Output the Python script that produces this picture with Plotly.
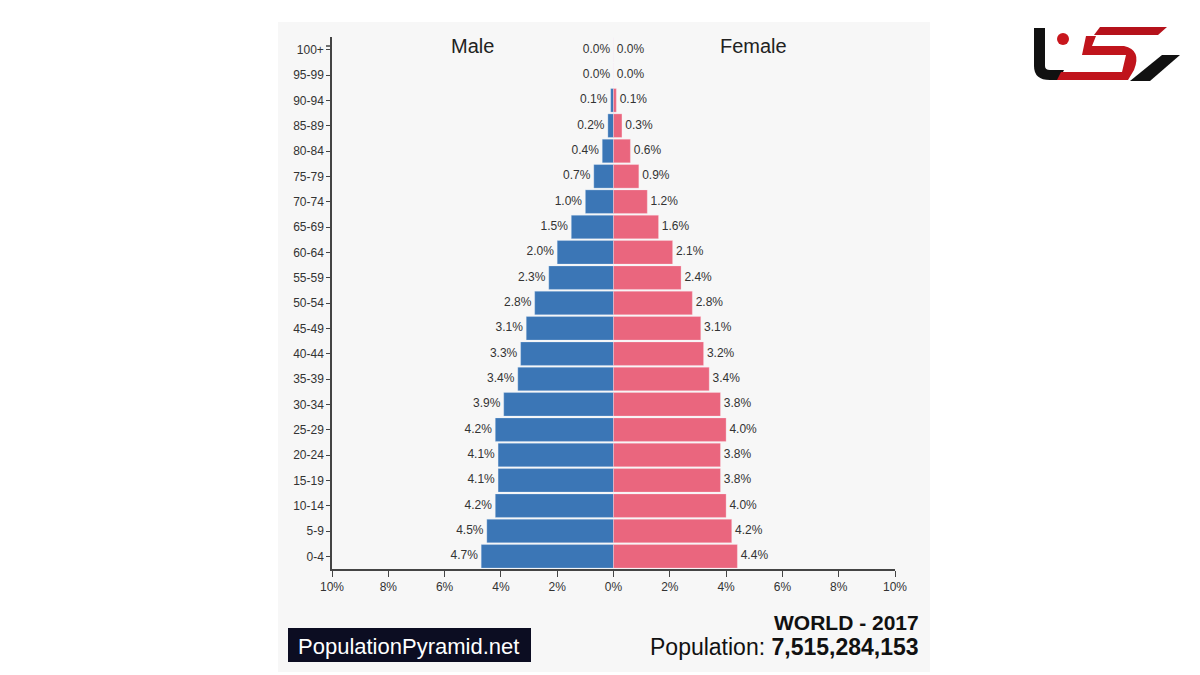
import plotly.graph_objects as go

age_groups = ["0-4", "5-9", "10-14", "15-19", "20-24", "25-29", "30-34", "35-39",
              "40-44", "45-49", "50-54", "55-59", "60-64", "65-69", "70-74", "75-79",
              "80-84", "85-89", "90-94", "95-99", "100+"]
male_pct = [4.7, 4.5, 4.2, 4.1, 4.1, 4.2, 3.9, 3.4, 3.3, 3.1, 2.8, 2.3, 2.0, 1.5,
            1.0, 0.7, 0.4, 0.2, 0.1, 0.0, 0.0]
female_pct = [4.4, 4.2, 4.0, 3.8, 3.8, 4.0, 3.8, 3.4, 3.2, 3.1, 2.8, 2.4, 2.1, 1.6,
              1.2, 0.9, 0.6, 0.3, 0.1, 0.0, 0.0]
tick_vals = [-10, -8, -6, -4, -2, 0, 2, 4, 6, 8, 10]
tick_text = ["10%", "8%", "6%", "4%", "2%", "0%", "2%", "4%", "6%", "8%", "10%"]

W, H = 1200, 675
ML, MR, MT, MB = 332, 305, 37, 106
PW, PH = W - ML - MR, H - MT - MB


def px(x):
    return (x - ML) / PW


def py(y):
    return 1 - (y - MT) / PH


MALE_C = "#3b76b6"
FEMALE_C = "#ea667e"
FONT = "Liberation Sans, Arial, sans-serif"
NB = "\u00a0"

fig = go.Figure()
fig.add_trace(go.Bar(y=age_groups, x=[-v for v in male_pct], orientation="h",
                     marker=dict(color=MALE_C, line=dict(color="rgba(230,240,255,0.6)", width=0.5)),
                     name="Male", hoverinfo="skip"))
fig.add_trace(go.Bar(y=age_groups, x=female_pct, orientation="h",
                     marker=dict(color=FEMALE_C, line=dict(color="rgba(255,235,240,0.6)", width=0.5)),
                     name="Female", hoverinfo="skip"))
fig.add_trace(go.Scatter(y=age_groups, x=[-v for v in male_pct], mode="text",
                         text=[f"{v:.1f}%{NB}" for v in male_pct], textposition="middle left",
                         textfont=dict(size=12, color="#333333", family=FONT), hoverinfo="skip"))
fig.add_trace(go.Scatter(y=age_groups, x=female_pct, mode="text",
                         text=[f"{NB}{v:.1f}%" for v in female_pct], textposition="middle right",
                         textfont=dict(size=12, color="#333333", family=FONT), hoverinfo="skip"))

shapes = [
    dict(type="rect", xref="paper", yref="paper", x0=px(278), x1=px(930), y0=py(22), y1=py(672),
         fillcolor="#f7f7f7", line=dict(width=0), layer="below"),
    dict(type="rect", xref="paper", yref="paper", x0=px(288), x1=px(531), y0=py(628), y1=py(662),
         fillcolor="#0c0d22", line=dict(width=0)),
    # logo
    dict(type="path", xref="paper", yref="paper",
         path=("M {a},{b} L {c},{b} L {c},{d} Q {c},{e} {f},{e} L {g},{e} L {h},{i} L {f},{i} Q {a},{i} {a},{d} Z"
               .format(a=px(1034), b=py(28), c=px(1045), d=py(66), e=py(70), f=px(1050),
                       g=px(1064), h=px(1059), i=py(80))),
         fillcolor="#111111", line=dict(width=0)),
    dict(type="circle", xref="paper", yref="paper", x0=px(1057), x1=px(1069), y0=py(33), y1=py(45),
         fillcolor="#c8161d", line=dict(width=0)),
    dict(type="path", xref="paper", yref="paper",
         path="M {},{} L {},{} L {},{} L {},{} Z".format(px(1100), py(27), px(1167), py(27),
                                                          px(1158), py(35), px(1094), py(35)),
         fillcolor="#b5121b", line=dict(width=0)),
    dict(type="path", xref="paper", yref="paper",
         path=("M {},{} L {},{} L {},{} L {},{} L {},{} Q {},{} {},{} L {},{} L {},{} L {},{} L {},{} L {},{} L {},{} Z"
               .format(px(1086), py(36), px(1096), py(36), px(1092), py(46),
                       px(1124), py(46), px(1124), py(46), px(1142), py(50), px(1134), py(70),
                       px(1128), py(80), px(1057), py(80), px(1061), py(72),
                       px(1122), py(72), px(1126), py(55), px(1082), py(55))),
         fillcolor="#c0141c", line=dict(width=0)),
    dict(type="path", xref="paper", yref="paper",
         path="M {},{} L {},{} L {},{} L {},{} Z".format(px(1162), py(55), px(1180), py(55),
                                                          px(1150), py(81), px(1130), py(81)),
         fillcolor="#111111", line=dict(width=0)),
    # small end tick at top of the y axis
    dict(type="line", xref="paper", yref="paper", x0=px(326), x1=px(332), y0=py(46), y1=py(46),
         line=dict(color="#444444", width=1.5)),
]


def ann(text, x, y, size, color="#111111", xanchor="center"):
    return dict(text=text, x=px(x), y=py(y), xref="paper", yref="paper", showarrow=False,
                xanchor=xanchor, yanchor="middle", font=dict(size=size, color=color, family=FONT))


annotations = [
    ann("Male", 472, 46, 20, "#222222"),
    ann("Female", 753, 46, 20, "#222222"),
    ann("PopulationPyramid.net", 408, 646, 22, "#ffffff"),
    ann("<b>WORLD - 2017</b>", 921, 622, 21, xanchor="right"),
    ann("Population: <b>7,515,284,153</b>", 921, 647, 23, xanchor="right"),
]

fig.update_layout(
    width=W, height=H, margin=dict(l=ML, r=MR, t=MT, b=MB, pad=0),
    paper_bgcolor="#ffffff", plot_bgcolor="rgba(0,0,0,0)",
    barmode="relative", bargap=0.07, showlegend=False,
    shapes=shapes, annotations=annotations,
    font=dict(family=FONT, color="#333333"),
    xaxis=dict(range=[-10, 10], tickvals=tick_vals, ticktext=tick_text, showgrid=False,
               zeroline=False, showline=True, linecolor="#444444", linewidth=1.5,
               ticks="outside", ticklen=6, tickcolor="#444444", tickfont=dict(size=12, color="#333333")),
    yaxis=dict(categoryorder="array", categoryarray=age_groups, range=[-0.5, 20.5],
               showgrid=False, zeroline=False, showline=True, linecolor="#444444", linewidth=1.5,
               ticks="outside", ticklen=4, tickcolor="#444444", tickfont=dict(size=12, color="#333333")),
)

fig.write_html("out.html", config={"displayModeBar": False},
               post_script="document.body.style.margin='0';")
